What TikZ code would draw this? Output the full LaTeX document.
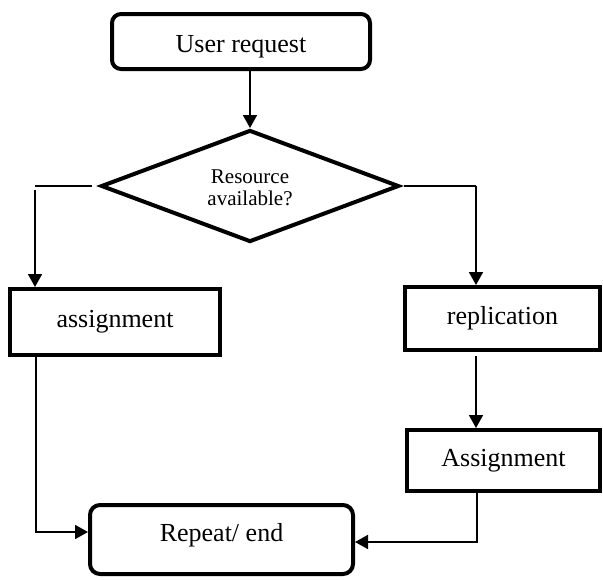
\documentclass[tikz,border=0pt]{standalone}
\usepackage{fontspec}
\setmainfont{Liberation Serif}
\usetikzlibrary{shapes.geometric}
\usetikzlibrary{arrows.meta}

\tikzset{
  roundbox/.style={draw,line width=4pt,rounded corners=9pt,inner sep=0pt,font=\fontsize{26}{30}\selectfont},
  plainbox/.style={draw,line width=4pt,inner sep=0pt,font=\fontsize{26}{30}\selectfont},
  decision/.style={draw,diamond,line width=4pt,inner sep=0pt,aspect=2.7,align=center,font=\fontsize{21}{22}\selectfont},
  link/.style={line width=1.8pt},
  arrow/.style={link,-{Triangle[length=13pt,width=14pt]}}
}

\begin{document}
\begin{tikzpicture}[x=1pt,y=-1pt]
\useasboundingbox (0,0) rectangle (603,579);

\node[roundbox,minimum width=258pt,minimum height=55pt,text height=26pt,text depth=5pt] (request) at (241,41.5) {User request};
\node[decision,minimum width=298pt,minimum height=112pt,text height=44pt,text depth=5pt] (avail) at (250,186) {Resource\\available?};
\node[plainbox,minimum width=210pt,minimum height=66pt] (assign) at (115,322) {assignment};
\node[plainbox,minimum width=195pt,minimum height=63pt] (replic) at (502.5,318.5) {replication};
\node[plainbox,minimum width=193pt,minimum height=61pt] (assign2) at (503.5,460.5) {Assignment};
\node[roundbox,rounded corners=10pt,minimum width=263pt,minimum height=69pt,text depth=15pt] (finish) at (221.5,539.5) {Repeat/ end};

\coordinate (lbend) at (35,186);
\coordinate (rbend) at (476,186);
\coordinate (ldrop) at (36,532);
\coordinate (rdrop) at (477,542);

\draw[arrow] (request.south -| avail.north) -- (avail.north);
\draw[link] ([xshift=-7pt]avail.west) -- (lbend);
\draw[arrow] ([yshift=-4pt]lbend) -- (lbend |- assign.north);
\draw[link] ([xshift=3pt]avail.east) -- (rbend);
\draw[arrow] (rbend) -- (rbend |- replic.north);
\draw[arrow] ([yshift=-4pt]replic.south -| rbend) -- (rbend |- assign2.north);
\draw[arrow] (assign.south -| ldrop) -- (ldrop) -- (ldrop -| finish.west);
\draw[arrow] (assign2.south -| rdrop) -- (rdrop) -- (rdrop -| finish.east);

\end{tikzpicture}
\end{document}
